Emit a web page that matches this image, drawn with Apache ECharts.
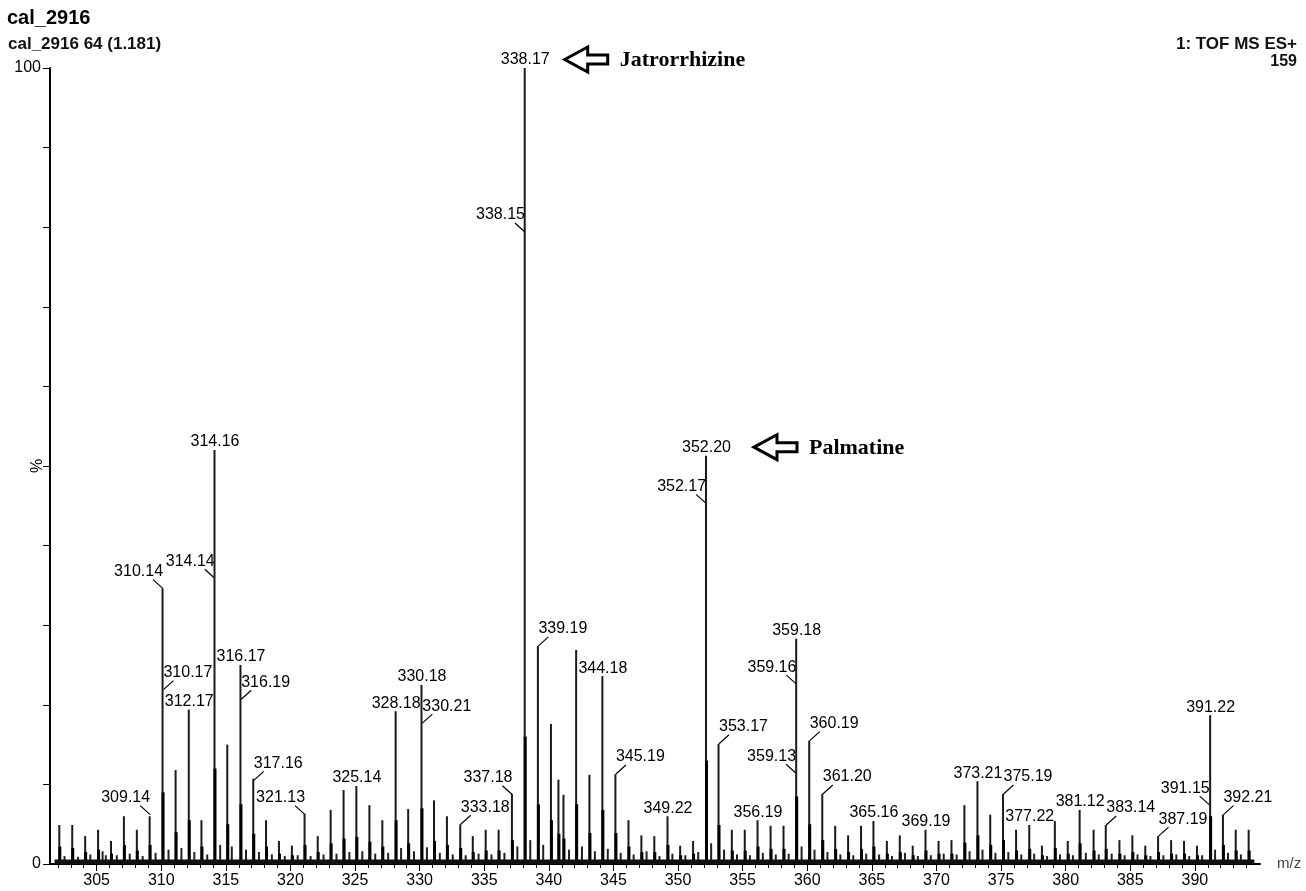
<!DOCTYPE html>
<html><head><meta charset="utf-8">
<script src="https://cdn.jsdelivr.net/npm/echarts@6/dist/echarts.min.js"></script>
<style>html,body{margin:0;padding:0;background:#fff}#c{width:1306px;height:891px}</style>
</head><body><div id="c"></div>
<script>
// ---- data ----
const peakMz = [302.15,303.15,304.15,305.15,306.15,307.15,308.15,309.14,310.14,311.15,312.17,313.15,314.16,315.15,316.17,317.16,318.15,319.15,320.15,321.13,322.15,323.15,324.15,325.14,326.15,327.15,328.18,329.15,330.18,331.15,332.15,333.18,334.15,335.15,336.15,337.18,338.17,339.19,340.2,340.78,341.17,342.15,343.18,344.18,345.19,346.2,347.2,348.2,349.22,350.2,351.2,352.20,353.17,354.2,355.2,356.19,357.2,358.2,359.18,360.19,361.20,362.2,363.2,364.2,365.16,366.2,367.2,368.2,369.19,370.2,371.2,372.2,373.21,374.2,375.19,376.2,377.22,378.2,379.2,380.2,381.12,382.2,383.14,384.2,385.2,386.2,387.19,388.2,389.2,390.2,391.22,392.21,393.2,394.2];
const peakIntensity = [4.9,4.9,3.5,4.3,2.9,6.0,4.3,6.0,34.6,11.8,19.4,5.5,52.0,15.0,25.0,10.7,5.5,2.9,2.3,6.3,3.5,6.8,9.3,9.8,7.4,5.5,19.2,6.9,22.5,8.0,6.0,5.0,3.5,4.3,4.3,8.8,100,27.4,17.6,10.6,8.7,26.9,11.2,23.6,11.3,5.5,3.6,3.5,6.0,2.3,2.9,51.3,15.1,4.3,4.3,5.5,4.8,4.8,28.3,15.5,8.8,4.8,3.6,4.8,5.4,2.9,3.6,2.3,4.3,2.9,3.0,7.4,10.4,6.2,8.8,4.3,4.9,2.3,5.4,2.9,6.8,4.3,4.9,3.0,3.6,2.3,3.5,3.0,2.9,2.3,18.7,6.2,4.3,4.3];
// lower, broader part of each peak (profile body)
const peakBodyIntensity = [2.2,2.0,1.5,1.8,1.3,2.4,1.7,2.4,9.0,4.0,5.5,2.2,12.0,5.0,7.5,3.8,2.2,1.3,1.1,2.4,1.5,2.6,3.2,3.4,2.8,2.2,5.5,2.6,7.0,2.9,2.4,2.0,1.5,1.7,1.7,3.0,16.0,7.5,5.5,3.8,3.2,7.5,3.9,6.8,3.9,2.2,1.5,1.5,2.4,1.1,1.3,13.0,4.9,1.7,1.7,2.2,1.9,1.9,8.5,5.0,3.0,1.9,1.5,1.9,2.2,1.3,1.5,1.1,1.7,1.3,1.3,2.7,3.6,2.4,3.0,1.7,1.9,1.1,2.0,1.3,2.6,1.7,1.9,1.3,1.5,1.1,1.5,1.3,1.3,1.1,6.0,2.4,1.7,1.7];

const minorMz = [302.55,303.6,304.55,305.5,305.75,306.6,307.6,308.6,309.6,310.6,311.6,312.6,313.6,314.6,315.5,316.6,317.6,318.6,319.6,320.6,321.6,322.6,323.6,324.6,325.6,326.6,327.6,328.6,329.6,330.6,331.6,332.6,333.6,334.6,335.6,336.6,337.6,338.6,339.6,341.6,342.6,343.6,344.6,345.6,346.6,347.6,348.6,349.6,350.6,351.6,352.6,353.6,354.6,355.6,356.6,357.6,358.6,359.6,360.6,361.6,362.6,363.6,364.6,365.6,366.6,367.6,368.6,369.6,370.6,371.6,372.6,373.6,374.6,375.6,376.6,377.6,378.6,379.6,380.6,381.6,382.6,383.6,384.6,385.6,386.6,387.6,388.6,389.6,390.6,391.6,392.6,393.6];
const minorIntensity = [1.0,0.9,1.2,1.6,1.1,1.1,1.3,1.0,1.4,1.8,2.0,1.5,1.2,2.4,2.2,1.8,1.5,1.2,1.0,1.1,1.0,1.2,1.3,1.5,1.6,1.3,1.4,2.0,1.6,2.1,1.4,1.2,1.1,1.3,1.2,1.4,2.2,3.0,2.4,1.8,2.2,1.6,1.9,1.4,1.2,1.6,1.0,1.3,1.1,1.5,2.6,1.8,1.2,1.1,1.4,1.2,1.3,2.2,1.8,1.5,1.2,1.1,1.3,1.2,1.0,1.4,1.0,1.1,1.3,1.2,1.6,1.8,1.4,1.5,1.2,1.3,1.0,1.2,1.1,1.4,1.2,1.3,1.1,1.2,1.0,1.1,1.2,1.0,1.1,1.8,1.4,1.2];

const baselineMz = [301.75, 394.6];
const baselineIntensity = [0.5, 0.5];

const annotationText = ['309.14','310.14','310.17','312.17','314.14','314.16','316.17','316.19','317.16','321.13','325.14','328.18','330.18','330.21','333.18','337.18','338.17','338.15','339.19','344.18','345.19','349.22','352.20','352.17','353.17','356.19','359.18','359.16','359.13','360.19','361.20','365.16','369.19','373.21','375.19','377.22','381.12','383.14','387.19','391.22','391.15','392.21'];
const annotationIntensity = [6.2,34.6,21.9,19.4,35.9,52.0,25.0,20.7,10.5,6.2,9.8,19.2,22.5,17.7,5.0,8.7,100,79.4,27.4,23.6,11.3,6.0,51.3,45.3,15.1,5.5,28.3,22.6,11.4,15.5,8.8,5.4,4.3,10.4,8.8,4.9,6.8,4.9,3.5,18.7,7.4,6.2];

const compoundNames = ['Jatrorrhizine', 'Palmatine'];
const compoundMz = [338.17, 352.20];
const compoundIntensity = [100, 51.3];

const xMajorTicks = [305,310,315,320,325,330,335,340,345,350,355,360,365,370,375,380,385,390];
const xMinorTicks = [302,303,304,306,307,308,309,311,312,313,314,316,317,318,319,321,322,323,324,326,327,328,329,331,332,333,334,336,337,338,339,341,342,343,344,346,347,348,349,351,352,353,354,356,357,358,359,361,362,363,364,366,367,368,369,371,372,373,374,376,377,378,379,381,382,383,384,386,387,388,389,391,392,393,394];
const yTickLabels = [0, 100];

// ---- layout (label placement relative to peaks) ----
const labelSide = ['l','l','r','t','l','t','t','r','r','l','t','t','t','r','r','l','t','l','r','t','r','t','t','l','r','t','t','l','l','r','r','t','t','t','r','t','t','r','r','t','l','r'];
const arrowGap = [38, 46];

const SANS = '"Liberation Sans", Arial, sans-serif';
const SERIF = '"Liberation Serif", "Times New Roman", serif';
const X_MIN = 301.39, X_MAX = 395.04;

const chart = echarts.init(document.getElementById('c'), null, {renderer: 'canvas'});

const option = {
  animation: false,
  backgroundColor: '#fff',
  title: [
    {text: 'cal_2916', left: 7, top: 8, padding: 0, textStyle: {fontFamily: SANS, fontSize: 20, fontWeight: 'bold', color: '#000'}},
    {text: 'cal_2916 64 (1.181)', left: 8, top: 36, padding: 0, textStyle: {fontFamily: SANS, fontSize: 17, fontWeight: 'bold', color: '#111'}},
    {text: '1: TOF MS ES+', right: 9, top: 36, padding: 0, textStyle: {fontFamily: SANS, fontSize: 17, fontWeight: 'bold', color: '#111'}},
    {text: '159', right: 9, top: 54, padding: 0, textStyle: {fontFamily: SANS, fontSize: 16, fontWeight: 'bold', color: '#111'}}
  ],
  grid: {left: 50, right: 46, top: 68, bottom: 27, containLabel: false, outerBoundsMode: 'none'},
  xAxis: [
    {
      type: 'value', min: X_MIN, max: X_MAX,
      axisLine: {show: true, onZero: false, lineStyle: {color: '#000', width: 2}},
      axisTick: {show: true, customValues: xMajorTicks, length: 7, lineStyle: {color: '#000', width: 1}},
      axisLabel: {customValues: xMajorTicks, fontFamily: SANS, fontSize: 16, color: '#000', margin: 9},
      splitLine: {show: false},
      name: 'm/z', nameLocation: 'end', nameGap: 17, nameMoveOverlap: false,
      nameTextStyle: {fontFamily: SANS, fontSize: 15, color: '#444', verticalAlign: 'middle', padding: [4, 0, 0, 0]}
    },
    {
      type: 'value', min: X_MIN, max: X_MAX, position: 'bottom',
      axisLine: {show: false},
      axisTick: {show: true, customValues: xMinorTicks, length: 4, lineStyle: {color: '#000', width: 1}},
      axisLabel: {show: false},
      splitLine: {show: false}
    }
  ],
  yAxis: {
    type: 'value', min: 0, max: 100, interval: 10,
    axisLine: {show: true, lineStyle: {color: '#000', width: 2}},
    axisTick: {show: true, length: 7, lineStyle: {color: '#000', width: 1}},
    axisLabel: {customValues: yTickLabels, fontFamily: SANS, fontSize: 16, color: '#000', margin: 9},
    splitLine: {show: false},
    name: '%', nameLocation: 'middle', nameGap: 4, nameRotate: 90, nameMoveOverlap: false,
    nameTextStyle: {fontFamily: SANS, fontSize: 16, color: '#000'}
  },
  series: [
    {
      type: 'line', xAxisIndex: 0, silent: true, symbol: 'none',
      data: baselineMz.map((m, i) => [m, baselineIntensity[i]]),
      lineStyle: {color: '#111', width: 1}, areaStyle: {color: '#111', opacity: 1}
    },
    {
      type: 'bar', xAxisIndex: 0, silent: true, barWidth: 2,
      data: minorMz.map((m, i) => [m, minorIntensity[i]]),
      itemStyle: {color: '#222'}
    },
    {
      type: 'bar', xAxisIndex: 0, silent: true, barWidth: 2, barGap: '-100%',
      data: peakMz.map((m, i) => [m, peakIntensity[i]]),
      itemStyle: {color: '#1a1a1a'}
    },
    {
      type: 'bar', xAxisIndex: 0, silent: true, barWidth: 3, barGap: '-100%',
      data: peakMz.map((m, i) => [m, peakBodyIntensity[i]]),
      itemStyle: {color: '#000'}
    },
    {
      type: 'custom', xAxisIndex: 0, silent: true, clip: false,
      data: annotationText.map((t, i) => [parseFloat(t), annotationIntensity[i]]),
      renderItem: function (params, api) {
        const p = api.coord([api.value(0), api.value(1)]);
        const i = params.dataIndex;
        const side = labelSide[i];
        const txt = annotationText[i];
        const ts = {text: txt, fontFamily: SANS, fontSize: 16, fill: '#000'};
        if (side === 't') {
          return {type: 'text', style: Object.assign({x: p[0], y: p[1] - 8, align: 'center', verticalAlign: 'middle'}, ts)};
        }
        const s = side === 'l' ? -1 : 1;
        return {
          type: 'group',
          children: [
            {type: 'line', shape: {x1: p[0], y1: p[1], x2: p[0] + s * 10, y2: p[1] - 9}, style: {stroke: '#000', lineWidth: 1.2}},
            {type: 'text', style: Object.assign({x: p[0], y: p[1] - 17, align: s < 0 ? 'right' : 'left', verticalAlign: 'middle'}, ts)}
          ]
        };
      }
    },
    {
      type: 'custom', xAxisIndex: 0, silent: true, clip: false,
      data: compoundMz.map((m, i) => [m, compoundIntensity[i]]),
      renderItem: function (params, api) {
        const p = api.coord([api.value(0), api.value(1)]);
        const i = params.dataIndex;
        const tx = p[0] + arrowGap[i] + 1.5;
        const cy = p[1] - 8.5;
        return {
          type: 'group',
          children: [
            {type: 'polygon', shape: {points: [[tx, cy], [tx + 23, cy - 12.5], [tx + 23, cy - 4.5], [tx + 43, cy - 4.5], [tx + 43, cy + 4.5], [tx + 23, cy + 4.5], [tx + 23, cy + 12.5]]},
             style: {fill: '#fff', stroke: '#000', lineWidth: 3, lineJoin: 'miter'}},
            {type: 'text', style: {x: tx + 55, y: cy + 1, text: compoundNames[i], align: 'left', verticalAlign: 'middle', fontFamily: SERIF, fontSize: 22, fontWeight: 'bold', fill: '#000'}}
          ]
        };
      }
    }
  ]
};
chart.setOption(option);
</script>
</body></html>
